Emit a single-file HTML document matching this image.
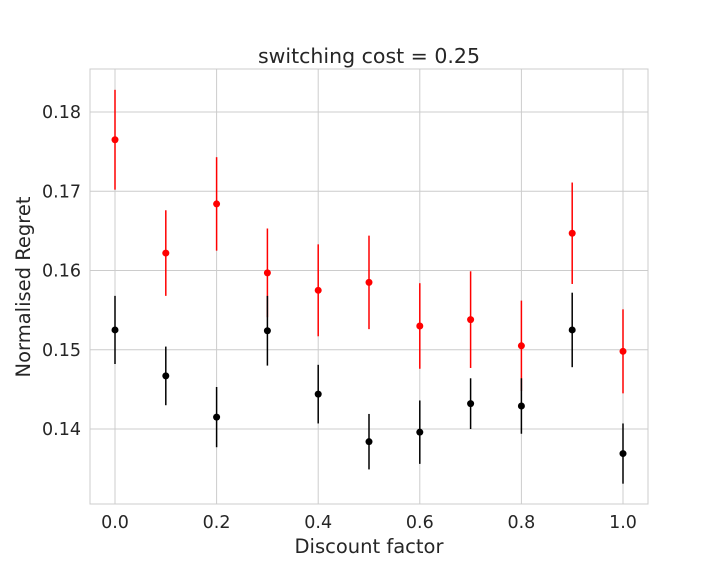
<!DOCTYPE html>
<html><head><meta charset="utf-8"><style>
body{margin:0;background:#fff;}
svg text{font-family:"DejaVu Sans","Liberation Sans",sans-serif;fill:#262626;}
</style></head><body>
<svg id="chart" width="720" height="576">
<rect x="90" y="69" width="558" height="435" fill="#fff" stroke="#cccccc" stroke-width="1"/>
<g id="grid"></g><g id="marks"></g><g id="labels"></g>
<text x="369" y="63" text-anchor="middle" font-size="20.5">switching cost = 0.25</text>
<text x="369" y="553" text-anchor="middle" font-size="19.5">Discount factor</text>
<text x="30" y="287" text-anchor="middle" font-size="19.5" transform="rotate(-90 30 287)">Normalised Regret</text>
</svg>
<script>
const xs=[0,0.1,0.2,0.3,0.4,0.5,0.6,0.7,0.8,0.9,1.0];
const redVals=[0.1765,0.1622,0.1684,0.1597,0.1575,0.1585,0.1530,0.1538,0.1505,0.1647,0.1498];
const redErr=[0.0063,0.0054,0.0059,0.0056,0.0058,0.0059,0.0054,0.0061,0.0057,0.0064,0.0053];
const blackVals=[0.1525,0.1467,0.1415,0.1524,0.1444,0.1384,0.1396,0.1432,0.1429,0.1525,0.1369];
const blackErr=[0.0043,0.0037,0.0038,0.0044,0.0037,0.0035,0.0040,0.0032,0.0035,0.0047,0.0038];
const xTicks=[0,0.2,0.4,0.6,0.8,1.0];
const xTickLabels=["0.0","0.2","0.4","0.6","0.8","1.0"];
const yTicks=[0.14,0.15,0.16,0.17,0.18];
const yTickLabels=["0.14","0.15","0.16","0.17","0.18"];
const X=v=>115+v*508;
const Y=v=>112+(0.18-v)*7925;
const NS="http://www.w3.org/2000/svg";
function mk(t,a,p){const e=document.createElementNS(NS,t);for(const k in a)e.setAttribute(k,a[k]);p.appendChild(e);return e;}
const g=document.getElementById('grid'),m=document.getElementById('marks'),l=document.getElementById('labels');
xTicks.forEach((v,i)=>{
 const ln=mk('line',{x1:X(v),x2:X(v),y1:69,y2:504,stroke:'#cccccc','stroke-width':1},g);
 
 
 const t=mk('text',{x:X(v),y:528,'text-anchor':'middle','font-size':17.5},l);t.textContent=xTickLabels[i];
 
 
});
yTicks.forEach((v,i)=>{
 const ln=mk('line',{x1:90,x2:648,y1:Y(v),y2:Y(v),stroke:'#cccccc','stroke-width':1},g);
 
 
 const t=mk('text',{x:81,y:Y(v)+6,'text-anchor':'end','font-size':17.5},l);t.textContent=yTickLabels[i];
 
 
});
function series(vals,errs,col,name){
 xs.forEach((x,i)=>{
  const e=mk('line',{x1:X(x),x2:X(x),y1:Y(vals[i]+errs[i]),y2:Y(vals[i]-errs[i]),stroke:col,'stroke-width':1.5},m);
  
  
  const c=mk('circle',{cx:X(x),cy:Y(vals[i]),r:3.5,fill:col},m);
  
  
 });
}
series(redVals,redErr,'#ff0000','red-series');
series(blackVals,blackErr,'#000000','black-series');
</script>
</body></html>
